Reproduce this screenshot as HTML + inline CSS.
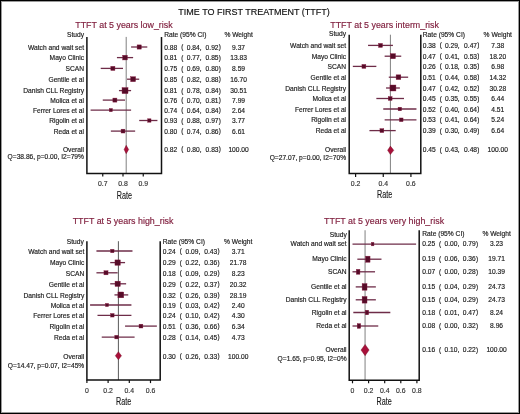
<!DOCTYPE html>
<html><head><meta charset="utf-8"><style>
html,body{margin:0;padding:0;background:#fff;}
#f{position:relative;width:520px;height:414px;overflow:hidden;background:#fff;box-sizing:border-box;border:1px solid #000;box-shadow:inset 0 0 0 1px #9a9a9a;}
svg{position:absolute;left:0;top:0;}
text{font-family:"Liberation Sans", sans-serif;white-space:pre;stroke:currentColor;stroke-width:0.16px;}
svg{filter:blur(0.3px);}
</style></head><body><div id="f">
<svg width="520" height="414" viewBox="0 0 520 414" style="left:-1px;top:-1px">
<text x="75.30" y="28.40" font-size="8.87" text-anchor="start" fill="#80203f" color="#80203f">TTFT at 5 years low_risk</text>
<text x="84.00" y="36.80" font-size="6.66" text-anchor="end" fill="#1a1a1a" color="#1a1a1a">Study</text>
<text x="164.20" y="37.40" font-size="6.66" text-anchor="start" fill="#1a1a1a" color="#1a1a1a">Rate (95% CI)</text>
<text x="238.60" y="37.40" font-size="6.66" text-anchor="middle" fill="#1a1a1a" color="#1a1a1a">% Weight</text>
<line x1="126.20" y1="36.90" x2="126.20" y2="173.50" stroke="#808080" stroke-width="1.0"/>
<text x="84.00" y="49.70" font-size="6.66" text-anchor="end" fill="#1a1a1a" color="#1a1a1a">Watch and wait set</text>
<line x1="131.10" y1="47.00" x2="147.30" y2="47.00" stroke="#6e2c48" stroke-width="1.3"/>
<rect x="137.10" y="44.90" width="4.20" height="4.20" fill="#560c28" stroke="#84183e" stroke-width="0.4"/>
<text x="164.20" y="49.70" font-size="6.66" text-anchor="start" fill="#1a1a1a" color="#1a1a1a">0.88</text>
<text x="181.30" y="49.20" font-size="6.3" text-anchor="start" fill="#1a1a1a" color="#1a1a1a">(</text>
<text x="186.70" y="49.70" font-size="6.66" text-anchor="start" fill="#1a1a1a" color="#1a1a1a">0.84,</text>
<text x="205.60" y="49.70" font-size="6.66" text-anchor="start" fill="#1a1a1a" color="#1a1a1a">0.92</text>
<text x="218.86" y="49.20" font-size="6.3" text-anchor="start" fill="#1a1a1a" color="#1a1a1a">)</text>
<text x="238.60" y="49.70" font-size="6.66" text-anchor="middle" fill="#1a1a1a" color="#1a1a1a">9.37</text>
<text x="84.00" y="60.30" font-size="6.66" text-anchor="end" fill="#1a1a1a" color="#1a1a1a">Mayo Clinic</text>
<line x1="116.93" y1="57.60" x2="133.12" y2="57.60" stroke="#6e2c48" stroke-width="1.3"/>
<rect x="122.69" y="55.26" width="4.68" height="4.68" fill="#560c28" stroke="#84183e" stroke-width="0.4"/>
<text x="164.20" y="60.30" font-size="6.66" text-anchor="start" fill="#1a1a1a" color="#1a1a1a">0.81</text>
<text x="181.30" y="59.80" font-size="6.3" text-anchor="start" fill="#1a1a1a" color="#1a1a1a">(</text>
<text x="186.70" y="60.30" font-size="6.66" text-anchor="start" fill="#1a1a1a" color="#1a1a1a">0.77,</text>
<text x="205.60" y="60.30" font-size="6.66" text-anchor="start" fill="#1a1a1a" color="#1a1a1a">0.85</text>
<text x="218.86" y="59.80" font-size="6.3" text-anchor="start" fill="#1a1a1a" color="#1a1a1a">)</text>
<text x="238.60" y="60.30" font-size="6.66" text-anchor="middle" fill="#1a1a1a" color="#1a1a1a">13.83</text>
<text x="84.00" y="71.10" font-size="6.66" text-anchor="end" fill="#1a1a1a" color="#1a1a1a">SCAN</text>
<line x1="100.72" y1="68.40" x2="123.00" y2="68.40" stroke="#6e2c48" stroke-width="1.3"/>
<rect x="110.82" y="66.34" width="4.11" height="4.11" fill="#560c28" stroke="#84183e" stroke-width="0.4"/>
<text x="164.20" y="71.10" font-size="6.66" text-anchor="start" fill="#1a1a1a" color="#1a1a1a">0.75</text>
<text x="181.30" y="70.60" font-size="6.3" text-anchor="start" fill="#1a1a1a" color="#1a1a1a">(</text>
<text x="186.70" y="71.10" font-size="6.66" text-anchor="start" fill="#1a1a1a" color="#1a1a1a">0.69,</text>
<text x="205.60" y="71.10" font-size="6.66" text-anchor="start" fill="#1a1a1a" color="#1a1a1a">0.80</text>
<text x="218.86" y="70.60" font-size="6.3" text-anchor="start" fill="#1a1a1a" color="#1a1a1a">)</text>
<text x="238.60" y="71.10" font-size="6.66" text-anchor="middle" fill="#1a1a1a" color="#1a1a1a">8.59</text>
<text x="84.00" y="81.90" font-size="6.66" text-anchor="end" fill="#1a1a1a" color="#1a1a1a">Gentile et al</text>
<line x1="127.05" y1="79.20" x2="139.20" y2="79.20" stroke="#6e2c48" stroke-width="1.3"/>
<rect x="130.65" y="76.73" width="4.94" height="4.94" fill="#560c28" stroke="#84183e" stroke-width="0.4"/>
<text x="164.20" y="81.90" font-size="6.66" text-anchor="start" fill="#1a1a1a" color="#1a1a1a">0.85</text>
<text x="181.30" y="81.40" font-size="6.3" text-anchor="start" fill="#1a1a1a" color="#1a1a1a">(</text>
<text x="186.70" y="81.90" font-size="6.66" text-anchor="start" fill="#1a1a1a" color="#1a1a1a">0.82,</text>
<text x="205.60" y="81.90" font-size="6.66" text-anchor="start" fill="#1a1a1a" color="#1a1a1a">0.88</text>
<text x="218.86" y="81.40" font-size="6.3" text-anchor="start" fill="#1a1a1a" color="#1a1a1a">)</text>
<text x="238.60" y="81.90" font-size="6.66" text-anchor="middle" fill="#1a1a1a" color="#1a1a1a">16.70</text>
<text x="84.00" y="93.30" font-size="6.66" text-anchor="end" fill="#1a1a1a" color="#1a1a1a">Danish CLL Registry</text>
<line x1="118.95" y1="90.60" x2="131.10" y2="90.60" stroke="#6e2c48" stroke-width="1.3"/>
<rect x="122.04" y="87.61" width="5.98" height="5.98" fill="#560c28" stroke="#84183e" stroke-width="0.4"/>
<text x="164.20" y="93.30" font-size="6.66" text-anchor="start" fill="#1a1a1a" color="#1a1a1a">0.81</text>
<text x="181.30" y="92.80" font-size="6.3" text-anchor="start" fill="#1a1a1a" color="#1a1a1a">(</text>
<text x="186.70" y="93.30" font-size="6.66" text-anchor="start" fill="#1a1a1a" color="#1a1a1a">0.78,</text>
<text x="205.60" y="93.30" font-size="6.66" text-anchor="start" fill="#1a1a1a" color="#1a1a1a">0.84</text>
<text x="218.86" y="92.80" font-size="6.3" text-anchor="start" fill="#1a1a1a" color="#1a1a1a">)</text>
<text x="238.60" y="93.30" font-size="6.66" text-anchor="middle" fill="#1a1a1a" color="#1a1a1a">30.51</text>
<text x="84.00" y="102.80" font-size="6.66" text-anchor="end" fill="#1a1a1a" color="#1a1a1a">Molica et al</text>
<line x1="102.75" y1="100.10" x2="125.03" y2="100.10" stroke="#6e2c48" stroke-width="1.3"/>
<rect x="112.88" y="98.08" width="4.04" height="4.04" fill="#560c28" stroke="#84183e" stroke-width="0.4"/>
<text x="164.20" y="102.80" font-size="6.66" text-anchor="start" fill="#1a1a1a" color="#1a1a1a">0.76</text>
<text x="181.30" y="102.30" font-size="6.3" text-anchor="start" fill="#1a1a1a" color="#1a1a1a">(</text>
<text x="186.70" y="102.80" font-size="6.66" text-anchor="start" fill="#1a1a1a" color="#1a1a1a">0.70,</text>
<text x="205.60" y="102.80" font-size="6.66" text-anchor="start" fill="#1a1a1a" color="#1a1a1a">0.81</text>
<text x="218.86" y="102.30" font-size="6.3" text-anchor="start" fill="#1a1a1a" color="#1a1a1a">)</text>
<text x="238.60" y="102.80" font-size="6.66" text-anchor="middle" fill="#1a1a1a" color="#1a1a1a">7.99</text>
<text x="84.00" y="112.80" font-size="6.66" text-anchor="end" fill="#1a1a1a" color="#1a1a1a">Ferrer Lores et al</text>
<line x1="90.60" y1="110.10" x2="131.10" y2="110.10" stroke="#6e2c48" stroke-width="1.3"/>
<rect x="109.27" y="108.52" width="3.17" height="3.17" fill="#560c28" stroke="#84183e" stroke-width="0.4"/>
<text x="164.20" y="112.80" font-size="6.66" text-anchor="start" fill="#1a1a1a" color="#1a1a1a">0.74</text>
<text x="181.30" y="112.30" font-size="6.3" text-anchor="start" fill="#1a1a1a" color="#1a1a1a">(</text>
<text x="186.70" y="112.80" font-size="6.66" text-anchor="start" fill="#1a1a1a" color="#1a1a1a">0.64,</text>
<text x="205.60" y="112.80" font-size="6.66" text-anchor="start" fill="#1a1a1a" color="#1a1a1a">0.84</text>
<text x="218.86" y="112.30" font-size="6.3" text-anchor="start" fill="#1a1a1a" color="#1a1a1a">)</text>
<text x="238.60" y="112.80" font-size="6.66" text-anchor="middle" fill="#1a1a1a" color="#1a1a1a">2.64</text>
<text x="84.00" y="123.20" font-size="6.66" text-anchor="end" fill="#1a1a1a" color="#1a1a1a">Rigolin et al</text>
<line x1="139.20" y1="120.50" x2="157.42" y2="120.50" stroke="#6e2c48" stroke-width="1.3"/>
<rect x="147.63" y="118.80" width="3.40" height="3.40" fill="#560c28" stroke="#84183e" stroke-width="0.4"/>
<text x="164.20" y="123.20" font-size="6.66" text-anchor="start" fill="#1a1a1a" color="#1a1a1a">0.93</text>
<text x="181.30" y="122.70" font-size="6.3" text-anchor="start" fill="#1a1a1a" color="#1a1a1a">(</text>
<text x="186.70" y="123.20" font-size="6.66" text-anchor="start" fill="#1a1a1a" color="#1a1a1a">0.88,</text>
<text x="205.60" y="123.20" font-size="6.66" text-anchor="start" fill="#1a1a1a" color="#1a1a1a">0.97</text>
<text x="218.86" y="122.70" font-size="6.3" text-anchor="start" fill="#1a1a1a" color="#1a1a1a">)</text>
<text x="238.60" y="123.20" font-size="6.66" text-anchor="middle" fill="#1a1a1a" color="#1a1a1a">3.77</text>
<text x="84.00" y="133.80" font-size="6.66" text-anchor="end" fill="#1a1a1a" color="#1a1a1a">Reda et al</text>
<line x1="110.85" y1="131.10" x2="135.15" y2="131.10" stroke="#6e2c48" stroke-width="1.3"/>
<rect x="121.07" y="129.17" width="3.85" height="3.85" fill="#560c28" stroke="#84183e" stroke-width="0.4"/>
<text x="164.20" y="133.80" font-size="6.66" text-anchor="start" fill="#1a1a1a" color="#1a1a1a">0.80</text>
<text x="181.30" y="133.30" font-size="6.3" text-anchor="start" fill="#1a1a1a" color="#1a1a1a">(</text>
<text x="186.70" y="133.80" font-size="6.66" text-anchor="start" fill="#1a1a1a" color="#1a1a1a">0.74,</text>
<text x="205.60" y="133.80" font-size="6.66" text-anchor="start" fill="#1a1a1a" color="#1a1a1a">0.86</text>
<text x="218.86" y="133.30" font-size="6.3" text-anchor="start" fill="#1a1a1a" color="#1a1a1a">)</text>
<text x="238.60" y="133.80" font-size="6.66" text-anchor="middle" fill="#1a1a1a" color="#1a1a1a">6.61</text>
<polygon points="124.10,149.50 126.20,145.30 128.70,149.50 126.20,153.70" fill="#a8103a" stroke="#70081f" stroke-width="0.4" stroke-linejoin="miter"/>
<text x="84.00" y="151.90" font-size="6.66" text-anchor="end" fill="#1a1a1a" color="#1a1a1a">Overall</text>
<text x="84.00" y="158.90" font-size="6.66" text-anchor="end" fill="#1a1a1a" color="#1a1a1a">Q=38.86, p=0.00, I2=79%</text>
<text x="164.20" y="151.90" font-size="6.66" text-anchor="start" fill="#1a1a1a" color="#1a1a1a">0.82</text>
<text x="181.30" y="151.40" font-size="6.3" text-anchor="start" fill="#1a1a1a" color="#1a1a1a">(</text>
<text x="186.70" y="151.90" font-size="6.66" text-anchor="start" fill="#1a1a1a" color="#1a1a1a">0.80,</text>
<text x="205.60" y="151.90" font-size="6.66" text-anchor="start" fill="#1a1a1a" color="#1a1a1a">0.83</text>
<text x="218.86" y="151.40" font-size="6.3" text-anchor="start" fill="#1a1a1a" color="#1a1a1a">)</text>
<text x="238.60" y="151.90" font-size="6.66" text-anchor="middle" fill="#1a1a1a" color="#1a1a1a">100.00</text>
<path d="M86.90,36.90 V173.50 H161.50 V36.90" fill="none" stroke="#111" stroke-width="1.5"/>
<line x1="102.75" y1="173.50" x2="102.75" y2="176.60" stroke="#111" stroke-width="1.2"/>
<text x="102.75" y="186.40" font-size="6.9" text-anchor="middle" fill="#333" color="#333">0.7</text>
<line x1="123.00" y1="173.50" x2="123.00" y2="176.60" stroke="#111" stroke-width="1.2"/>
<text x="123.00" y="186.40" font-size="6.9" text-anchor="middle" fill="#333" color="#333">0.8</text>
<line x1="143.25" y1="173.50" x2="143.25" y2="176.60" stroke="#111" stroke-width="1.2"/>
<text x="143.25" y="186.40" font-size="6.9" text-anchor="middle" fill="#333" color="#333">0.9</text>
<text transform="translate(124.40,198.80) scale(0.72,1)" font-size="10" text-anchor="middle" fill="#1a1a1a" color="#1a1a1a">Rate</text>
<text x="330.30" y="28.20" font-size="8.87" text-anchor="start" fill="#80203f" color="#80203f">TTFT at 5 years interm_risk</text>
<text x="346.00" y="36.30" font-size="6.66" text-anchor="end" fill="#1a1a1a" color="#1a1a1a">Study</text>
<text x="422.80" y="37.30" font-size="6.66" text-anchor="start" fill="#1a1a1a" color="#1a1a1a">Rate (95% CI)</text>
<text x="497.80" y="37.30" font-size="6.66" text-anchor="middle" fill="#1a1a1a" color="#1a1a1a">% Weight</text>
<line x1="390.40" y1="34.70" x2="390.40" y2="173.60" stroke="#808080" stroke-width="1.0"/>
<text x="346.10" y="47.90" font-size="6.66" text-anchor="end" fill="#1a1a1a" color="#1a1a1a">Watch and wait set</text>
<line x1="368.05" y1="45.40" x2="392.94" y2="45.40" stroke="#6e2c48" stroke-width="1.3"/>
<rect x="378.52" y="43.42" width="3.96" height="3.96" fill="#560c28" stroke="#84183e" stroke-width="0.4"/>
<text x="422.80" y="47.90" font-size="6.66" text-anchor="start" fill="#1a1a1a" color="#1a1a1a">0.38</text>
<text x="439.70" y="47.40" font-size="6.3" text-anchor="start" fill="#1a1a1a" color="#1a1a1a">(</text>
<text x="444.90" y="47.90" font-size="6.66" text-anchor="start" fill="#1a1a1a" color="#1a1a1a">0.29,</text>
<text x="464.10" y="47.90" font-size="6.66" text-anchor="start" fill="#1a1a1a" color="#1a1a1a">0.47</text>
<text x="477.36" y="47.40" font-size="6.3" text-anchor="start" fill="#1a1a1a" color="#1a1a1a">)</text>
<text x="497.80" y="47.90" font-size="6.66" text-anchor="middle" fill="#1a1a1a" color="#1a1a1a">7.38</text>
<text x="346.10" y="58.70" font-size="6.66" text-anchor="end" fill="#1a1a1a" color="#1a1a1a">Mayo Clinic</text>
<line x1="384.64" y1="56.20" x2="401.24" y2="56.20" stroke="#6e2c48" stroke-width="1.3"/>
<rect x="390.41" y="53.66" width="5.07" height="5.07" fill="#560c28" stroke="#84183e" stroke-width="0.4"/>
<text x="422.80" y="58.70" font-size="6.66" text-anchor="start" fill="#1a1a1a" color="#1a1a1a">0.47</text>
<text x="439.70" y="58.20" font-size="6.3" text-anchor="start" fill="#1a1a1a" color="#1a1a1a">(</text>
<text x="444.90" y="58.70" font-size="6.66" text-anchor="start" fill="#1a1a1a" color="#1a1a1a">0.41,</text>
<text x="464.10" y="58.70" font-size="6.66" text-anchor="start" fill="#1a1a1a" color="#1a1a1a">0.53</text>
<text x="477.36" y="58.20" font-size="6.3" text-anchor="start" fill="#1a1a1a" color="#1a1a1a">)</text>
<text x="497.80" y="58.70" font-size="6.66" text-anchor="middle" fill="#1a1a1a" color="#1a1a1a">18.20</text>
<text x="346.10" y="68.90" font-size="6.66" text-anchor="end" fill="#1a1a1a" color="#1a1a1a">SCAN</text>
<line x1="352.83" y1="66.40" x2="376.35" y2="66.40" stroke="#6e2c48" stroke-width="1.3"/>
<rect x="361.95" y="64.45" width="3.90" height="3.90" fill="#560c28" stroke="#84183e" stroke-width="0.4"/>
<text x="422.80" y="68.90" font-size="6.66" text-anchor="start" fill="#1a1a1a" color="#1a1a1a">0.26</text>
<text x="439.70" y="68.40" font-size="6.3" text-anchor="start" fill="#1a1a1a" color="#1a1a1a">(</text>
<text x="444.90" y="68.90" font-size="6.66" text-anchor="start" fill="#1a1a1a" color="#1a1a1a">0.18,</text>
<text x="464.10" y="68.90" font-size="6.66" text-anchor="start" fill="#1a1a1a" color="#1a1a1a">0.35</text>
<text x="477.36" y="68.40" font-size="6.3" text-anchor="start" fill="#1a1a1a" color="#1a1a1a">)</text>
<text x="497.80" y="68.90" font-size="6.66" text-anchor="middle" fill="#1a1a1a" color="#1a1a1a">6.98</text>
<text x="346.10" y="79.70" font-size="6.66" text-anchor="end" fill="#1a1a1a" color="#1a1a1a">Gentile et al</text>
<line x1="388.79" y1="77.20" x2="408.15" y2="77.20" stroke="#6e2c48" stroke-width="1.3"/>
<rect x="396.11" y="74.84" width="4.72" height="4.72" fill="#560c28" stroke="#84183e" stroke-width="0.4"/>
<text x="422.80" y="79.70" font-size="6.66" text-anchor="start" fill="#1a1a1a" color="#1a1a1a">0.51</text>
<text x="439.70" y="79.20" font-size="6.3" text-anchor="start" fill="#1a1a1a" color="#1a1a1a">(</text>
<text x="444.90" y="79.70" font-size="6.66" text-anchor="start" fill="#1a1a1a" color="#1a1a1a">0.44,</text>
<text x="464.10" y="79.70" font-size="6.66" text-anchor="start" fill="#1a1a1a" color="#1a1a1a">0.58</text>
<text x="477.36" y="79.20" font-size="6.3" text-anchor="start" fill="#1a1a1a" color="#1a1a1a">)</text>
<text x="497.80" y="79.70" font-size="6.66" text-anchor="middle" fill="#1a1a1a" color="#1a1a1a">14.32</text>
<text x="346.10" y="90.50" font-size="6.66" text-anchor="end" fill="#1a1a1a" color="#1a1a1a">Danish CLL Registry</text>
<line x1="386.03" y1="88.00" x2="399.86" y2="88.00" stroke="#6e2c48" stroke-width="1.3"/>
<rect x="389.96" y="85.02" width="5.96" height="5.96" fill="#560c28" stroke="#84183e" stroke-width="0.4"/>
<text x="422.80" y="90.50" font-size="6.66" text-anchor="start" fill="#1a1a1a" color="#1a1a1a">0.47</text>
<text x="439.70" y="90.00" font-size="6.3" text-anchor="start" fill="#1a1a1a" color="#1a1a1a">(</text>
<text x="444.90" y="90.50" font-size="6.66" text-anchor="start" fill="#1a1a1a" color="#1a1a1a">0.42,</text>
<text x="464.10" y="90.50" font-size="6.66" text-anchor="start" fill="#1a1a1a" color="#1a1a1a">0.52</text>
<text x="477.36" y="90.00" font-size="6.3" text-anchor="start" fill="#1a1a1a" color="#1a1a1a">)</text>
<text x="497.80" y="90.50" font-size="6.66" text-anchor="middle" fill="#1a1a1a" color="#1a1a1a">30.28</text>
<text x="346.10" y="101.00" font-size="6.66" text-anchor="end" fill="#1a1a1a" color="#1a1a1a">Molica et al</text>
<line x1="376.35" y1="98.50" x2="404.00" y2="98.50" stroke="#6e2c48" stroke-width="1.3"/>
<rect x="388.26" y="96.59" width="3.83" height="3.83" fill="#560c28" stroke="#84183e" stroke-width="0.4"/>
<text x="422.80" y="101.00" font-size="6.66" text-anchor="start" fill="#1a1a1a" color="#1a1a1a">0.45</text>
<text x="439.70" y="100.50" font-size="6.3" text-anchor="start" fill="#1a1a1a" color="#1a1a1a">(</text>
<text x="444.90" y="101.00" font-size="6.66" text-anchor="start" fill="#1a1a1a" color="#1a1a1a">0.35,</text>
<text x="464.10" y="101.00" font-size="6.66" text-anchor="start" fill="#1a1a1a" color="#1a1a1a">0.55</text>
<text x="477.36" y="100.50" font-size="6.3" text-anchor="start" fill="#1a1a1a" color="#1a1a1a">)</text>
<text x="497.80" y="101.00" font-size="6.66" text-anchor="middle" fill="#1a1a1a" color="#1a1a1a">6.44</text>
<text x="346.10" y="111.50" font-size="6.66" text-anchor="end" fill="#1a1a1a" color="#1a1a1a">Ferrer Lores et al</text>
<line x1="383.26" y1="109.00" x2="416.45" y2="109.00" stroke="#6e2c48" stroke-width="1.3"/>
<rect x="398.09" y="107.24" width="3.53" height="3.53" fill="#560c28" stroke="#84183e" stroke-width="0.4"/>
<text x="422.80" y="111.50" font-size="6.66" text-anchor="start" fill="#1a1a1a" color="#1a1a1a">0.52</text>
<text x="439.70" y="111.00" font-size="6.3" text-anchor="start" fill="#1a1a1a" color="#1a1a1a">(</text>
<text x="444.90" y="111.50" font-size="6.66" text-anchor="start" fill="#1a1a1a" color="#1a1a1a">0.40,</text>
<text x="464.10" y="111.50" font-size="6.66" text-anchor="start" fill="#1a1a1a" color="#1a1a1a">0.64</text>
<text x="477.36" y="111.00" font-size="6.3" text-anchor="start" fill="#1a1a1a" color="#1a1a1a">)</text>
<text x="497.80" y="111.50" font-size="6.66" text-anchor="middle" fill="#1a1a1a" color="#1a1a1a">4.51</text>
<text x="346.10" y="122.30" font-size="6.66" text-anchor="end" fill="#1a1a1a" color="#1a1a1a">Rigolin et al</text>
<line x1="384.64" y1="119.80" x2="416.45" y2="119.80" stroke="#6e2c48" stroke-width="1.3"/>
<rect x="399.41" y="117.98" width="3.65" height="3.65" fill="#560c28" stroke="#84183e" stroke-width="0.4"/>
<text x="422.80" y="122.30" font-size="6.66" text-anchor="start" fill="#1a1a1a" color="#1a1a1a">0.53</text>
<text x="439.70" y="121.80" font-size="6.3" text-anchor="start" fill="#1a1a1a" color="#1a1a1a">(</text>
<text x="444.90" y="122.30" font-size="6.66" text-anchor="start" fill="#1a1a1a" color="#1a1a1a">0.41,</text>
<text x="464.10" y="122.30" font-size="6.66" text-anchor="start" fill="#1a1a1a" color="#1a1a1a">0.64</text>
<text x="477.36" y="121.80" font-size="6.3" text-anchor="start" fill="#1a1a1a" color="#1a1a1a">)</text>
<text x="497.80" y="122.30" font-size="6.66" text-anchor="middle" fill="#1a1a1a" color="#1a1a1a">5.24</text>
<text x="346.10" y="133.10" font-size="6.66" text-anchor="end" fill="#1a1a1a" color="#1a1a1a">Reda et al</text>
<line x1="369.43" y1="130.60" x2="395.71" y2="130.60" stroke="#6e2c48" stroke-width="1.3"/>
<rect x="379.95" y="128.67" width="3.86" height="3.86" fill="#560c28" stroke="#84183e" stroke-width="0.4"/>
<text x="422.80" y="133.10" font-size="6.66" text-anchor="start" fill="#1a1a1a" color="#1a1a1a">0.39</text>
<text x="439.70" y="132.60" font-size="6.3" text-anchor="start" fill="#1a1a1a" color="#1a1a1a">(</text>
<text x="444.90" y="133.10" font-size="6.66" text-anchor="start" fill="#1a1a1a" color="#1a1a1a">0.30,</text>
<text x="464.10" y="133.10" font-size="6.66" text-anchor="start" fill="#1a1a1a" color="#1a1a1a">0.49</text>
<text x="477.36" y="132.60" font-size="6.3" text-anchor="start" fill="#1a1a1a" color="#1a1a1a">)</text>
<text x="497.80" y="133.10" font-size="6.66" text-anchor="middle" fill="#1a1a1a" color="#1a1a1a">6.64</text>
<polygon points="387.60,150.30 390.40,146.10 393.80,150.30 390.40,154.50" fill="#a8103a" stroke="#70081f" stroke-width="0.4" stroke-linejoin="miter"/>
<text x="346.10" y="152.20" font-size="6.66" text-anchor="end" fill="#1a1a1a" color="#1a1a1a">Overall</text>
<text x="346.10" y="160.30" font-size="6.66" text-anchor="end" fill="#1a1a1a" color="#1a1a1a">Q=27.07, p=0.00, I2=70%</text>
<text x="422.80" y="152.20" font-size="6.66" text-anchor="start" fill="#1a1a1a" color="#1a1a1a">0.45</text>
<text x="439.70" y="151.70" font-size="6.3" text-anchor="start" fill="#1a1a1a" color="#1a1a1a">(</text>
<text x="444.90" y="152.20" font-size="6.66" text-anchor="start" fill="#1a1a1a" color="#1a1a1a">0.43,</text>
<text x="464.10" y="152.20" font-size="6.66" text-anchor="start" fill="#1a1a1a" color="#1a1a1a">0.48</text>
<text x="477.36" y="151.70" font-size="6.3" text-anchor="start" fill="#1a1a1a" color="#1a1a1a">)</text>
<text x="497.80" y="152.20" font-size="6.66" text-anchor="middle" fill="#1a1a1a" color="#1a1a1a">100.00</text>
<path d="M349.20,34.70 V173.60 H420.80 V34.70" fill="none" stroke="#111" stroke-width="1.5"/>
<line x1="355.60" y1="173.60" x2="355.60" y2="177.00" stroke="#111" stroke-width="1.2"/>
<text x="355.60" y="186.10" font-size="6.9" text-anchor="middle" fill="#333" color="#333">0.2</text>
<line x1="383.26" y1="173.60" x2="383.26" y2="177.00" stroke="#111" stroke-width="1.2"/>
<text x="383.26" y="186.10" font-size="6.9" text-anchor="middle" fill="#333" color="#333">0.4</text>
<line x1="410.92" y1="173.60" x2="410.92" y2="177.00" stroke="#111" stroke-width="1.2"/>
<text x="410.92" y="186.10" font-size="6.9" text-anchor="middle" fill="#333" color="#333">0.6</text>
<text transform="translate(384.60,198.20) scale(0.72,1)" font-size="10" text-anchor="middle" fill="#1a1a1a" color="#1a1a1a">Rate</text>
<text x="72.70" y="223.60" font-size="8.87" text-anchor="start" fill="#80203f" color="#80203f">TTFT at 5 years high_risk</text>
<text x="83.80" y="244.10" font-size="6.66" text-anchor="end" fill="#1a1a1a" color="#1a1a1a">Study</text>
<text x="162.80" y="244.20" font-size="6.66" text-anchor="start" fill="#1a1a1a" color="#1a1a1a">Rate (95% CI)</text>
<text x="238.20" y="244.20" font-size="6.66" text-anchor="middle" fill="#1a1a1a" color="#1a1a1a">% Weight</text>
<line x1="118.40" y1="241.20" x2="118.40" y2="380.00" stroke="#5a5a5a" stroke-width="1.0"/>
<text x="84.30" y="253.80" font-size="6.66" text-anchor="end" fill="#1a1a1a" color="#1a1a1a">Watch and wait set</text>
<line x1="96.44" y1="251.00" x2="132.48" y2="251.00" stroke="#6e2c48" stroke-width="1.3"/>
<rect x="110.65" y="249.31" width="3.39" height="3.39" fill="#560c28" stroke="#84183e" stroke-width="0.4"/>
<text x="162.80" y="253.80" font-size="6.66" text-anchor="start" fill="#1a1a1a" color="#1a1a1a">0.24</text>
<text x="179.70" y="253.30" font-size="6.3" text-anchor="start" fill="#1a1a1a" color="#1a1a1a">(</text>
<text x="185.50" y="253.80" font-size="6.66" text-anchor="start" fill="#1a1a1a" color="#1a1a1a">0.09,</text>
<text x="204.20" y="253.80" font-size="6.66" text-anchor="start" fill="#1a1a1a" color="#1a1a1a">0.43</text>
<text x="217.46" y="253.30" font-size="6.3" text-anchor="start" fill="#1a1a1a" color="#1a1a1a">)</text>
<text x="238.20" y="253.80" font-size="6.66" text-anchor="middle" fill="#1a1a1a" color="#1a1a1a">3.71</text>
<text x="84.30" y="265.40" font-size="6.66" text-anchor="end" fill="#1a1a1a" color="#1a1a1a">Mayo Clinic</text>
<line x1="110.22" y1="262.60" x2="125.06" y2="262.60" stroke="#6e2c48" stroke-width="1.3"/>
<rect x="114.96" y="259.92" width="5.36" height="5.36" fill="#560c28" stroke="#84183e" stroke-width="0.4"/>
<text x="162.80" y="265.40" font-size="6.66" text-anchor="start" fill="#1a1a1a" color="#1a1a1a">0.29</text>
<text x="179.70" y="264.90" font-size="6.3" text-anchor="start" fill="#1a1a1a" color="#1a1a1a">(</text>
<text x="185.50" y="265.40" font-size="6.66" text-anchor="start" fill="#1a1a1a" color="#1a1a1a">0.22,</text>
<text x="204.20" y="265.40" font-size="6.66" text-anchor="start" fill="#1a1a1a" color="#1a1a1a">0.36</text>
<text x="217.46" y="264.90" font-size="6.3" text-anchor="start" fill="#1a1a1a" color="#1a1a1a">)</text>
<text x="238.20" y="265.40" font-size="6.66" text-anchor="middle" fill="#1a1a1a" color="#1a1a1a">21.78</text>
<text x="84.30" y="275.60" font-size="6.66" text-anchor="end" fill="#1a1a1a" color="#1a1a1a">SCAN</text>
<line x1="96.44" y1="272.80" x2="117.64" y2="272.80" stroke="#6e2c48" stroke-width="1.3"/>
<rect x="103.95" y="270.77" width="4.07" height="4.07" fill="#560c28" stroke="#84183e" stroke-width="0.4"/>
<text x="162.80" y="275.60" font-size="6.66" text-anchor="start" fill="#1a1a1a" color="#1a1a1a">0.18</text>
<text x="179.70" y="275.10" font-size="6.3" text-anchor="start" fill="#1a1a1a" color="#1a1a1a">(</text>
<text x="185.50" y="275.60" font-size="6.66" text-anchor="start" fill="#1a1a1a" color="#1a1a1a">0.09,</text>
<text x="204.20" y="275.60" font-size="6.66" text-anchor="start" fill="#1a1a1a" color="#1a1a1a">0.29</text>
<text x="217.46" y="275.10" font-size="6.3" text-anchor="start" fill="#1a1a1a" color="#1a1a1a">)</text>
<text x="238.20" y="275.60" font-size="6.66" text-anchor="middle" fill="#1a1a1a" color="#1a1a1a">8.23</text>
<text x="84.30" y="286.60" font-size="6.66" text-anchor="end" fill="#1a1a1a" color="#1a1a1a">Gentile et al</text>
<line x1="110.22" y1="283.80" x2="126.12" y2="283.80" stroke="#6e2c48" stroke-width="1.3"/>
<rect x="115.02" y="281.18" width="5.25" height="5.25" fill="#560c28" stroke="#84183e" stroke-width="0.4"/>
<text x="162.80" y="286.60" font-size="6.66" text-anchor="start" fill="#1a1a1a" color="#1a1a1a">0.29</text>
<text x="179.70" y="286.10" font-size="6.3" text-anchor="start" fill="#1a1a1a" color="#1a1a1a">(</text>
<text x="185.50" y="286.60" font-size="6.66" text-anchor="start" fill="#1a1a1a" color="#1a1a1a">0.22,</text>
<text x="204.20" y="286.60" font-size="6.66" text-anchor="start" fill="#1a1a1a" color="#1a1a1a">0.37</text>
<text x="217.46" y="286.10" font-size="6.3" text-anchor="start" fill="#1a1a1a" color="#1a1a1a">)</text>
<text x="238.20" y="286.60" font-size="6.66" text-anchor="middle" fill="#1a1a1a" color="#1a1a1a">20.32</text>
<text x="84.30" y="297.70" font-size="6.66" text-anchor="end" fill="#1a1a1a" color="#1a1a1a">Danish CLL Registry</text>
<line x1="114.46" y1="294.90" x2="128.24" y2="294.90" stroke="#6e2c48" stroke-width="1.3"/>
<rect x="117.91" y="291.99" width="5.82" height="5.82" fill="#560c28" stroke="#84183e" stroke-width="0.4"/>
<text x="162.80" y="297.70" font-size="6.66" text-anchor="start" fill="#1a1a1a" color="#1a1a1a">0.32</text>
<text x="179.70" y="297.20" font-size="6.3" text-anchor="start" fill="#1a1a1a" color="#1a1a1a">(</text>
<text x="185.50" y="297.70" font-size="6.66" text-anchor="start" fill="#1a1a1a" color="#1a1a1a">0.26,</text>
<text x="204.20" y="297.70" font-size="6.66" text-anchor="start" fill="#1a1a1a" color="#1a1a1a">0.39</text>
<text x="217.46" y="297.20" font-size="6.3" text-anchor="start" fill="#1a1a1a" color="#1a1a1a">)</text>
<text x="238.20" y="297.70" font-size="6.66" text-anchor="middle" fill="#1a1a1a" color="#1a1a1a">28.19</text>
<text x="84.30" y="307.80" font-size="6.66" text-anchor="end" fill="#1a1a1a" color="#1a1a1a">Molica et al</text>
<line x1="90.08" y1="305.00" x2="131.42" y2="305.00" stroke="#6e2c48" stroke-width="1.3"/>
<rect x="105.48" y="303.44" width="3.12" height="3.12" fill="#560c28" stroke="#84183e" stroke-width="0.4"/>
<text x="162.80" y="307.80" font-size="6.66" text-anchor="start" fill="#1a1a1a" color="#1a1a1a">0.19</text>
<text x="179.70" y="307.30" font-size="6.3" text-anchor="start" fill="#1a1a1a" color="#1a1a1a">(</text>
<text x="185.50" y="307.80" font-size="6.66" text-anchor="start" fill="#1a1a1a" color="#1a1a1a">0.03,</text>
<text x="204.20" y="307.80" font-size="6.66" text-anchor="start" fill="#1a1a1a" color="#1a1a1a">0.42</text>
<text x="217.46" y="307.30" font-size="6.3" text-anchor="start" fill="#1a1a1a" color="#1a1a1a">)</text>
<text x="238.20" y="307.80" font-size="6.66" text-anchor="middle" fill="#1a1a1a" color="#1a1a1a">2.40</text>
<text x="84.30" y="318.10" font-size="6.66" text-anchor="end" fill="#1a1a1a" color="#1a1a1a">Ferrer Lores et al</text>
<line x1="97.50" y1="315.30" x2="131.42" y2="315.30" stroke="#6e2c48" stroke-width="1.3"/>
<rect x="110.59" y="313.55" width="3.49" height="3.49" fill="#560c28" stroke="#84183e" stroke-width="0.4"/>
<text x="162.80" y="318.10" font-size="6.66" text-anchor="start" fill="#1a1a1a" color="#1a1a1a">0.24</text>
<text x="179.70" y="317.60" font-size="6.3" text-anchor="start" fill="#1a1a1a" color="#1a1a1a">(</text>
<text x="185.50" y="318.10" font-size="6.66" text-anchor="start" fill="#1a1a1a" color="#1a1a1a">0.10,</text>
<text x="204.20" y="318.10" font-size="6.66" text-anchor="start" fill="#1a1a1a" color="#1a1a1a">0.42</text>
<text x="217.46" y="317.60" font-size="6.3" text-anchor="start" fill="#1a1a1a" color="#1a1a1a">)</text>
<text x="238.20" y="318.10" font-size="6.66" text-anchor="middle" fill="#1a1a1a" color="#1a1a1a">4.30</text>
<text x="84.30" y="328.90" font-size="6.66" text-anchor="end" fill="#1a1a1a" color="#1a1a1a">Rigolin et al</text>
<line x1="125.06" y1="326.10" x2="156.86" y2="326.10" stroke="#6e2c48" stroke-width="1.3"/>
<rect x="139.05" y="324.19" width="3.81" height="3.81" fill="#560c28" stroke="#84183e" stroke-width="0.4"/>
<text x="162.80" y="328.90" font-size="6.66" text-anchor="start" fill="#1a1a1a" color="#1a1a1a">0.51</text>
<text x="179.70" y="328.40" font-size="6.3" text-anchor="start" fill="#1a1a1a" color="#1a1a1a">(</text>
<text x="185.50" y="328.90" font-size="6.66" text-anchor="start" fill="#1a1a1a" color="#1a1a1a">0.36,</text>
<text x="204.20" y="328.90" font-size="6.66" text-anchor="start" fill="#1a1a1a" color="#1a1a1a">0.66</text>
<text x="217.46" y="328.40" font-size="6.3" text-anchor="start" fill="#1a1a1a" color="#1a1a1a">)</text>
<text x="238.20" y="328.90" font-size="6.66" text-anchor="middle" fill="#1a1a1a" color="#1a1a1a">6.34</text>
<text x="84.30" y="339.90" font-size="6.66" text-anchor="end" fill="#1a1a1a" color="#1a1a1a">Reda et al</text>
<line x1="101.74" y1="337.10" x2="134.60" y2="337.10" stroke="#6e2c48" stroke-width="1.3"/>
<rect x="114.80" y="335.32" width="3.57" height="3.57" fill="#560c28" stroke="#84183e" stroke-width="0.4"/>
<text x="162.80" y="339.90" font-size="6.66" text-anchor="start" fill="#1a1a1a" color="#1a1a1a">0.28</text>
<text x="179.70" y="339.40" font-size="6.3" text-anchor="start" fill="#1a1a1a" color="#1a1a1a">(</text>
<text x="185.50" y="339.90" font-size="6.66" text-anchor="start" fill="#1a1a1a" color="#1a1a1a">0.14,</text>
<text x="204.20" y="339.90" font-size="6.66" text-anchor="start" fill="#1a1a1a" color="#1a1a1a">0.45</text>
<text x="217.46" y="339.40" font-size="6.3" text-anchor="start" fill="#1a1a1a" color="#1a1a1a">)</text>
<text x="238.20" y="339.90" font-size="6.66" text-anchor="middle" fill="#1a1a1a" color="#1a1a1a">4.73</text>
<polygon points="115.30,355.75 118.40,351.70 121.50,355.75 118.40,359.80" fill="#a8103a" stroke="#70081f" stroke-width="0.4" stroke-linejoin="miter"/>
<text x="84.30" y="358.60" font-size="6.66" text-anchor="end" fill="#1a1a1a" color="#1a1a1a">Overall</text>
<text x="84.30" y="368.10" font-size="6.66" text-anchor="end" fill="#1a1a1a" color="#1a1a1a">Q=14.47, p=0.07, I2=45%</text>
<text x="162.80" y="358.60" font-size="6.66" text-anchor="start" fill="#1a1a1a" color="#1a1a1a">0.30</text>
<text x="179.70" y="358.10" font-size="6.3" text-anchor="start" fill="#1a1a1a" color="#1a1a1a">(</text>
<text x="185.50" y="358.60" font-size="6.66" text-anchor="start" fill="#1a1a1a" color="#1a1a1a">0.26,</text>
<text x="204.20" y="358.60" font-size="6.66" text-anchor="start" fill="#1a1a1a" color="#1a1a1a">0.33</text>
<text x="217.46" y="358.10" font-size="6.3" text-anchor="start" fill="#1a1a1a" color="#1a1a1a">)</text>
<text x="238.20" y="358.60" font-size="6.66" text-anchor="middle" fill="#1a1a1a" color="#1a1a1a">100.00</text>
<path d="M86.90,241.20 V380.00 H160.20 V241.20" fill="none" stroke="#111" stroke-width="1.5"/>
<line x1="86.90" y1="380.00" x2="86.90" y2="383.10" stroke="#111" stroke-width="1.2"/>
<text x="86.90" y="392.60" font-size="6.9" text-anchor="middle" fill="#333" color="#333">0</text>
<line x1="108.10" y1="380.00" x2="108.10" y2="383.10" stroke="#111" stroke-width="1.2"/>
<text x="108.10" y="392.60" font-size="6.9" text-anchor="middle" fill="#333" color="#333">0.2</text>
<line x1="129.30" y1="380.00" x2="129.30" y2="383.10" stroke="#111" stroke-width="1.2"/>
<text x="129.30" y="392.60" font-size="6.9" text-anchor="middle" fill="#333" color="#333">0.4</text>
<line x1="150.50" y1="380.00" x2="150.50" y2="383.10" stroke="#111" stroke-width="1.2"/>
<text x="150.50" y="392.60" font-size="6.9" text-anchor="middle" fill="#333" color="#333">0.6</text>
<text transform="translate(123.60,404.70) scale(0.72,1)" font-size="10" text-anchor="middle" fill="#1a1a1a" color="#1a1a1a">Rate</text>
<text x="324.10" y="224.00" font-size="8.87" text-anchor="start" fill="#80203f" color="#80203f">TTFT at 5 years very high_risk</text>
<text x="346.80" y="236.50" font-size="6.66" text-anchor="end" fill="#1a1a1a" color="#1a1a1a">Study</text>
<text x="422.30" y="236.30" font-size="6.66" text-anchor="start" fill="#1a1a1a" color="#1a1a1a">Rate (95% CI)</text>
<text x="496.60" y="236.30" font-size="6.66" text-anchor="middle" fill="#1a1a1a" color="#1a1a1a">% Weight</text>
<line x1="365.10" y1="230.30" x2="365.10" y2="380.20" stroke="#b0b0b0" stroke-width="1.6"/>
<text x="346.60" y="246.30" font-size="6.66" text-anchor="end" fill="#1a1a1a" color="#1a1a1a">Watch and wait set</text>
<line x1="352.50" y1="244.10" x2="416.10" y2="244.10" stroke="#6e2c48" stroke-width="1.3"/>
<rect x="371.33" y="242.35" width="2.59" height="3.50" fill="#560c28" stroke="#84183e" stroke-width="0.4"/>
<text x="422.30" y="246.30" font-size="6.66" text-anchor="start" fill="#1a1a1a" color="#1a1a1a">0.25</text>
<text x="439.00" y="245.80" font-size="6.3" text-anchor="start" fill="#1a1a1a" color="#1a1a1a">(</text>
<text x="444.50" y="246.30" font-size="6.66" text-anchor="start" fill="#1a1a1a" color="#1a1a1a">0.00,</text>
<text x="462.80" y="246.30" font-size="6.66" text-anchor="start" fill="#1a1a1a" color="#1a1a1a">0.79</text>
<text x="476.06" y="245.80" font-size="6.3" text-anchor="start" fill="#1a1a1a" color="#1a1a1a">)</text>
<text x="496.60" y="246.30" font-size="6.66" text-anchor="middle" fill="#1a1a1a" color="#1a1a1a">3.23</text>
<text x="346.60" y="261.40" font-size="6.66" text-anchor="end" fill="#1a1a1a" color="#1a1a1a">Mayo Clinic</text>
<line x1="357.33" y1="259.20" x2="381.48" y2="259.20" stroke="#6e2c48" stroke-width="1.3"/>
<rect x="365.55" y="256.16" width="4.50" height="6.07" fill="#560c28" stroke="#84183e" stroke-width="0.4"/>
<text x="422.30" y="261.40" font-size="6.66" text-anchor="start" fill="#1a1a1a" color="#1a1a1a">0.19</text>
<text x="439.00" y="260.90" font-size="6.3" text-anchor="start" fill="#1a1a1a" color="#1a1a1a">(</text>
<text x="444.50" y="261.40" font-size="6.66" text-anchor="start" fill="#1a1a1a" color="#1a1a1a">0.06,</text>
<text x="462.80" y="261.40" font-size="6.66" text-anchor="start" fill="#1a1a1a" color="#1a1a1a">0.36</text>
<text x="476.06" y="260.90" font-size="6.3" text-anchor="start" fill="#1a1a1a" color="#1a1a1a">)</text>
<text x="496.60" y="261.40" font-size="6.66" text-anchor="middle" fill="#1a1a1a" color="#1a1a1a">19.71</text>
<text x="346.60" y="274.00" font-size="6.66" text-anchor="end" fill="#1a1a1a" color="#1a1a1a">SCAN</text>
<line x1="352.50" y1="271.80" x2="375.04" y2="271.80" stroke="#6e2c48" stroke-width="1.3"/>
<rect x="356.32" y="269.36" width="3.62" height="4.89" fill="#560c28" stroke="#84183e" stroke-width="0.4"/>
<text x="422.30" y="274.00" font-size="6.66" text-anchor="start" fill="#1a1a1a" color="#1a1a1a">0.07</text>
<text x="439.00" y="273.50" font-size="6.3" text-anchor="start" fill="#1a1a1a" color="#1a1a1a">(</text>
<text x="444.50" y="274.00" font-size="6.66" text-anchor="start" fill="#1a1a1a" color="#1a1a1a">0.00,</text>
<text x="462.80" y="274.00" font-size="6.66" text-anchor="start" fill="#1a1a1a" color="#1a1a1a">0.28</text>
<text x="476.06" y="273.50" font-size="6.3" text-anchor="start" fill="#1a1a1a" color="#1a1a1a">)</text>
<text x="496.60" y="274.00" font-size="6.66" text-anchor="middle" fill="#1a1a1a" color="#1a1a1a">10.39</text>
<text x="346.60" y="289.10" font-size="6.66" text-anchor="end" fill="#1a1a1a" color="#1a1a1a">Gentile et al</text>
<line x1="355.72" y1="286.90" x2="375.85" y2="286.90" stroke="#6e2c48" stroke-width="1.3"/>
<rect x="362.13" y="283.61" width="4.88" height="6.59" fill="#560c28" stroke="#84183e" stroke-width="0.4"/>
<text x="422.30" y="289.10" font-size="6.66" text-anchor="start" fill="#1a1a1a" color="#1a1a1a">0.15</text>
<text x="439.00" y="288.60" font-size="6.3" text-anchor="start" fill="#1a1a1a" color="#1a1a1a">(</text>
<text x="444.50" y="289.10" font-size="6.66" text-anchor="start" fill="#1a1a1a" color="#1a1a1a">0.04,</text>
<text x="462.80" y="289.10" font-size="6.66" text-anchor="start" fill="#1a1a1a" color="#1a1a1a">0.29</text>
<text x="476.06" y="288.60" font-size="6.3" text-anchor="start" fill="#1a1a1a" color="#1a1a1a">)</text>
<text x="496.60" y="289.10" font-size="6.66" text-anchor="middle" fill="#1a1a1a" color="#1a1a1a">24.73</text>
<text x="346.60" y="302.00" font-size="6.66" text-anchor="end" fill="#1a1a1a" color="#1a1a1a">Danish CLL Registry</text>
<line x1="355.72" y1="299.80" x2="375.85" y2="299.80" stroke="#6e2c48" stroke-width="1.3"/>
<rect x="362.13" y="296.51" width="4.88" height="6.59" fill="#560c28" stroke="#84183e" stroke-width="0.4"/>
<text x="422.30" y="302.00" font-size="6.66" text-anchor="start" fill="#1a1a1a" color="#1a1a1a">0.15</text>
<text x="439.00" y="301.50" font-size="6.3" text-anchor="start" fill="#1a1a1a" color="#1a1a1a">(</text>
<text x="444.50" y="302.00" font-size="6.66" text-anchor="start" fill="#1a1a1a" color="#1a1a1a">0.04,</text>
<text x="462.80" y="302.00" font-size="6.66" text-anchor="start" fill="#1a1a1a" color="#1a1a1a">0.29</text>
<text x="476.06" y="301.50" font-size="6.3" text-anchor="start" fill="#1a1a1a" color="#1a1a1a">)</text>
<text x="496.60" y="302.00" font-size="6.66" text-anchor="middle" fill="#1a1a1a" color="#1a1a1a">24.73</text>
<text x="346.60" y="314.70" font-size="6.66" text-anchor="end" fill="#1a1a1a" color="#1a1a1a">Rigolin et al</text>
<line x1="353.31" y1="312.50" x2="390.33" y2="312.50" stroke="#6e2c48" stroke-width="1.3"/>
<rect x="365.31" y="310.23" width="3.37" height="4.55" fill="#560c28" stroke="#84183e" stroke-width="0.4"/>
<text x="422.30" y="314.70" font-size="6.66" text-anchor="start" fill="#1a1a1a" color="#1a1a1a">0.18</text>
<text x="439.00" y="314.20" font-size="6.3" text-anchor="start" fill="#1a1a1a" color="#1a1a1a">(</text>
<text x="444.50" y="314.70" font-size="6.66" text-anchor="start" fill="#1a1a1a" color="#1a1a1a">0.01,</text>
<text x="462.80" y="314.70" font-size="6.66" text-anchor="start" fill="#1a1a1a" color="#1a1a1a">0.47</text>
<text x="476.06" y="314.20" font-size="6.3" text-anchor="start" fill="#1a1a1a" color="#1a1a1a">)</text>
<text x="496.60" y="314.70" font-size="6.66" text-anchor="middle" fill="#1a1a1a" color="#1a1a1a">8.24</text>
<text x="346.60" y="328.20" font-size="6.66" text-anchor="end" fill="#1a1a1a" color="#1a1a1a">Reda et al</text>
<line x1="352.50" y1="326.00" x2="378.26" y2="326.00" stroke="#6e2c48" stroke-width="1.3"/>
<rect x="357.21" y="323.67" width="3.46" height="4.66" fill="#560c28" stroke="#84183e" stroke-width="0.4"/>
<text x="422.30" y="328.20" font-size="6.66" text-anchor="start" fill="#1a1a1a" color="#1a1a1a">0.08</text>
<text x="439.00" y="327.70" font-size="6.3" text-anchor="start" fill="#1a1a1a" color="#1a1a1a">(</text>
<text x="444.50" y="328.20" font-size="6.66" text-anchor="start" fill="#1a1a1a" color="#1a1a1a">0.00,</text>
<text x="462.80" y="328.20" font-size="6.66" text-anchor="start" fill="#1a1a1a" color="#1a1a1a">0.32</text>
<text x="476.06" y="327.70" font-size="6.3" text-anchor="start" fill="#1a1a1a" color="#1a1a1a">)</text>
<text x="496.60" y="328.20" font-size="6.66" text-anchor="middle" fill="#1a1a1a" color="#1a1a1a">8.96</text>
<polygon points="361.00,350.05 365.10,344.40 369.10,350.05 365.10,355.70" fill="#a8103a" stroke="#70081f" stroke-width="0.4" stroke-linejoin="miter"/>
<text x="346.60" y="352.20" font-size="6.66" text-anchor="end" fill="#1a1a1a" color="#1a1a1a">Overall</text>
<text x="346.60" y="361.10" font-size="6.66" text-anchor="end" fill="#1a1a1a" color="#1a1a1a">Q=1.65, p=0.95, I2=0%</text>
<text x="422.30" y="352.20" font-size="6.66" text-anchor="start" fill="#1a1a1a" color="#1a1a1a">0.16</text>
<text x="439.00" y="351.70" font-size="6.3" text-anchor="start" fill="#1a1a1a" color="#1a1a1a">(</text>
<text x="444.50" y="352.20" font-size="6.66" text-anchor="start" fill="#1a1a1a" color="#1a1a1a">0.10,</text>
<text x="462.80" y="352.20" font-size="6.66" text-anchor="start" fill="#1a1a1a" color="#1a1a1a">0.22</text>
<text x="476.06" y="351.70" font-size="6.3" text-anchor="start" fill="#1a1a1a" color="#1a1a1a">)</text>
<text x="496.60" y="352.20" font-size="6.66" text-anchor="middle" fill="#1a1a1a" color="#1a1a1a">100.00</text>
<path d="M349.20,230.30 V380.20 H419.20 V230.30" fill="none" stroke="#111" stroke-width="1.5"/>
<line x1="352.50" y1="380.20" x2="352.50" y2="383.30" stroke="#111" stroke-width="1.2"/>
<text x="352.50" y="392.80" font-size="6.9" text-anchor="middle" fill="#333" color="#333">0</text>
<line x1="368.60" y1="380.20" x2="368.60" y2="383.30" stroke="#111" stroke-width="1.2"/>
<text x="368.60" y="392.80" font-size="6.9" text-anchor="middle" fill="#333" color="#333">0.2</text>
<line x1="384.70" y1="380.20" x2="384.70" y2="383.30" stroke="#111" stroke-width="1.2"/>
<text x="384.70" y="392.80" font-size="6.9" text-anchor="middle" fill="#333" color="#333">0.4</text>
<line x1="400.80" y1="380.20" x2="400.80" y2="383.30" stroke="#111" stroke-width="1.2"/>
<text x="400.80" y="392.80" font-size="6.9" text-anchor="middle" fill="#333" color="#333">0.6</text>
<line x1="416.90" y1="380.20" x2="416.90" y2="383.30" stroke="#111" stroke-width="1.2"/>
<text x="416.90" y="392.80" font-size="6.9" text-anchor="middle" fill="#333" color="#333">0.8</text>
<text transform="translate(384.10,404.90) scale(0.72,1)" font-size="10" text-anchor="middle" fill="#1a1a1a" color="#1a1a1a">Rate</text>
<text x="178.30" y="15.30" font-size="9.0" text-anchor="start" fill="#111" color="#111">TIME TO FIRST TREATMENT (TTFT)</text>
</svg></div></body></html>
